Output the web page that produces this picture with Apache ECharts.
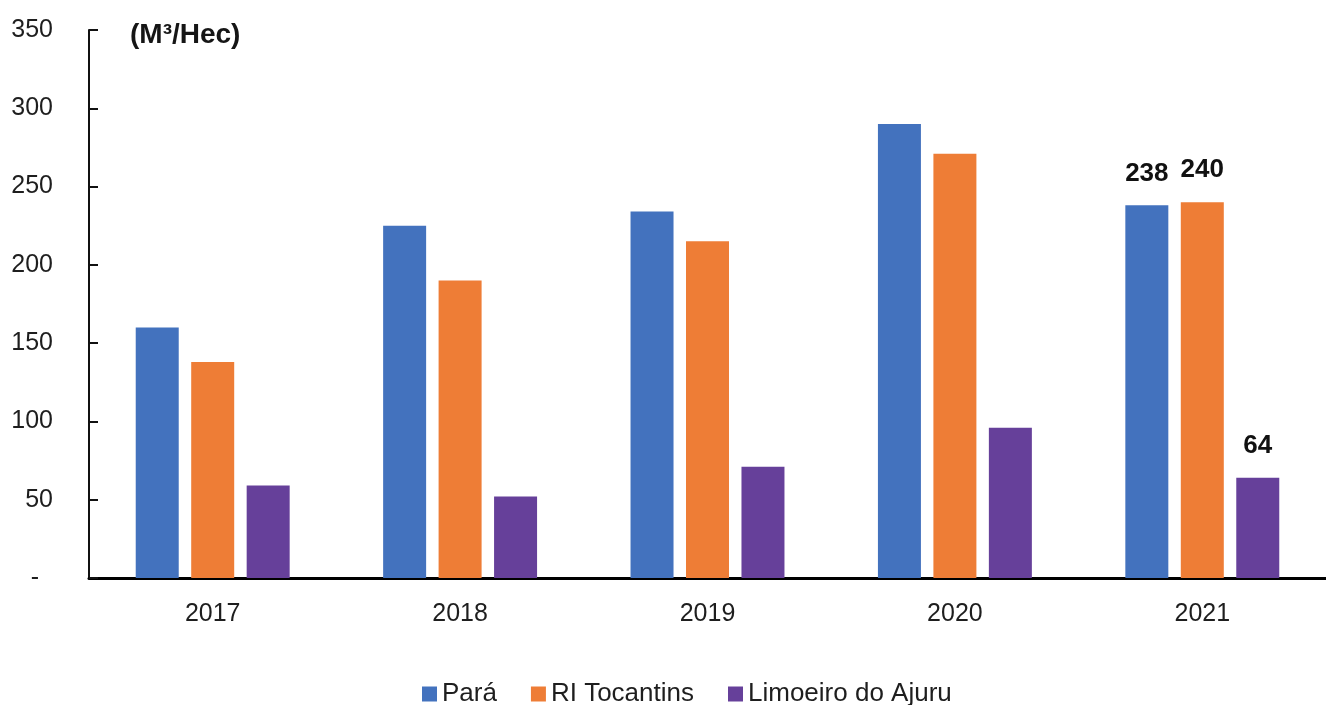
<!DOCTYPE html>
<html>
<head>
<meta charset="utf-8">
<script src="https://cdn.jsdelivr.net/npm/echarts@6/dist/echarts.min.js"></script>
<style>
html,body{margin:0;padding:0;background:#fff;}
#c{width:1326px;height:705px;}
</style>
</head>
<body>
<div id="c"></div>
<script>
var categories = ['2017', '2018', '2019', '2020', '2021'];
var seriesNames = ['Pará', 'RI Tocantins', 'Limoeiro do Ajuru'];
var para = [160, 225, 234, 290, 238];
var riTocantins = [138, 190, 215, 271, 240];
var limoeiro = [59, 52, 71, 96, 64];
var labelledIndex = 4;
var unitLabel = '(M³/Hec)';

var colors = ['#4372BE', '#EE7D36', '#66409A'];
var font = '"Liberation Sans", Arial, sans-serif';

function makeData(arr) {
  return arr.map(function (v, i) {
    return {
      value: v,
      label: { show: i === labelledIndex }
    };
  });
}

var chart = echarts.init(document.getElementById('c'));
var allData = [para, riTocantins, limoeiro];
chart.setOption({
  animation: false,
  backgroundColor: '#fff',
  textStyle: { fontFamily: font },
  title: {
    text: unitLabel,
    left: 130,
    top: 21,
    padding: 0,
    textStyle: { fontFamily: font, fontSize: 28, fontWeight: 'bold', color: '#151515' }
  },
  legend: {
    top: 681,
    left: 422,
    padding: 0,
    itemWidth: 15,
    itemHeight: 15,
    itemGap: 34,
    icon: 'rect',
    textStyle: { fontFamily: font, fontSize: 26, color: '#1e1e1e', padding: [0, 0, 0, 0] },
    data: seriesNames
  },
  grid: { left: 89, right: 0, top: 30, bottom: 127, containLabel: false },
  xAxis: {
    type: 'category',
    data: categories,
    axisLine: { lineStyle: { color: '#000', width: 3 } },
    axisTick: { inside: true, length: 9, lineStyle: { color: '#000', width: 2.5 } },
    axisLabel: { fontFamily: font, fontSize: 25, color: '#1e1e1e', margin: 24 }
  },
  yAxis: {
    type: 'value',
    min: 0,
    max: 350,
    interval: 50,
    splitLine: { show: false },
    axisLine: { show: true, lineStyle: { color: '#111', width: 2 } },
    axisTick: { show: true, inside: true, length: 9, lineStyle: { color: '#111', width: 2 } },
    axisLabel: {
      fontFamily: font, fontSize: 25, color: '#1e1e1e', margin: 36,
      formatter: function (v) { return v === 0 ? '-  ' : String(v); }
    }
  },
  series: seriesNames.map(function (name, k) {
    return {
      name: name,
      type: 'bar',
      data: makeData(allData[k]),
      barWidth: 43,
      barGap: '29%',
      itemStyle: { color: colors[k] },
      label: {
        position: 'top',
        distance: 19,
        fontFamily: font,
        fontSize: 26,
        fontWeight: 'bold',
        color: '#111'
      }
    };
  })
});
</script>
</body>
</html>
